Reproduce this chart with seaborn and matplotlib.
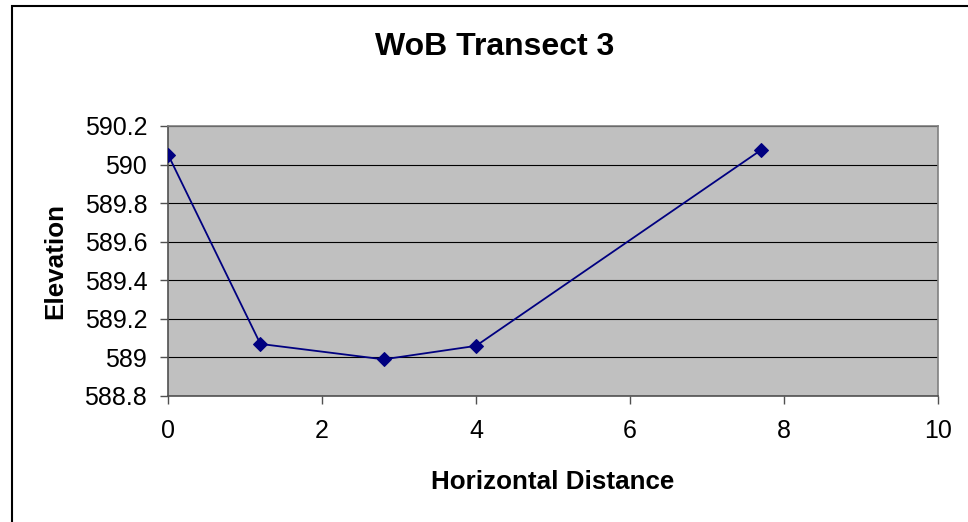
import matplotlib
matplotlib.use("Agg")
import matplotlib.pyplot as plt
import seaborn as sns
import pandas as pd
from matplotlib.ticker import FuncFormatter, MultipleLocator
from matplotlib.patches import Rectangle

# Data
distance = [0, 1.2, 2.8, 4.0, 7.7]
elevation = [590.052, 589.07, 588.99, 589.06, 590.075]
title = "WoB Transect 3"
xlabel = "Horizontal Distance"
ylabel = "Elevation"

sns.set_theme(style="white")
plt.rcParams['font.family'] = ['Liberation Sans', 'DejaVu Sans']

W, H = 968, 522
fig = plt.figure(figsize=(W/100, H/100), dpi=100)
ax = fig.add_axes([168/W, 1-396/H, (938-168)/W, (396-126)/H])
ax.set_facecolor('#C0C0C0')

df = pd.DataFrame({'x': distance, 'y': elevation})
sns.lineplot(data=df, x='x', y='y', ax=ax, color='#000080', linewidth=1.3,
             marker='D', markersize=7, markeredgecolor='#000080',
             markerfacecolor='#000080', sort=False, zorder=3)

ax.set_xlim(0, 10)
ax.set_ylim(588.8, 590.2)
ax.xaxis.set_major_locator(MultipleLocator(2))
ax.yaxis.set_major_locator(MultipleLocator(0.2))
ax.yaxis.set_major_formatter(FuncFormatter(lambda v, p: f"{v:.1f}".rstrip('0').rstrip('.')))

ax.yaxis.grid(True, color='black', linewidth=0.8)
ax.xaxis.grid(False)
ax.set_axisbelow(True)

for s in ['top', 'right']:
    ax.spines[s].set_color('#808080')
    ax.spines[s].set_linewidth(1.2)
for s in ['left', 'bottom']:
    ax.spines[s].set_color('#505050')
    ax.spines[s].set_linewidth(1.2)

ax.tick_params(axis='both', which='major', direction='out', length=6, width=1,
               color='#505050', labelsize=18, labelcolor='black',
               bottom=True, left=True)
ax.tick_params(axis='x', pad=10.5)
ax.tick_params(axis='y', pad=9)

ax.set_xlabel("")
ax.set_ylabel("")
fig.text(553/W, 1-489/H, xlabel, fontsize=18.7, fontweight='bold', color='black',
         ha='center', va='baseline')
fig.text(55/W, 1-261/H, ylabel, fontsize=18.7, fontweight='bold', color='black',
         ha='center', va='center', rotation=90)
fig.text(495/W, 1-55/H, title, fontsize=23, fontweight='bold', color='black',
         ha='center', va='baseline')

fig.patches.append(Rectangle((12/W, -0.05), 1.2, 1+0.05-6/H, transform=fig.transFigure,
                             fill=False, edgecolor='black', linewidth=1.5))

fig.savefig('out.png', dpi=100)
